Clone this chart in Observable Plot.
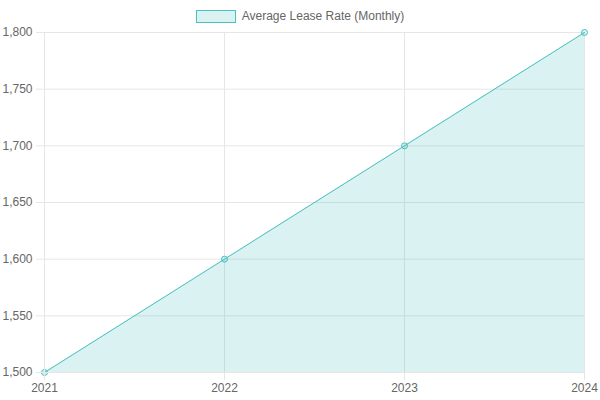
<!DOCTYPE html>
<html>
<head>
<meta charset="utf-8">
<script src="https://cdn.jsdelivr.net/npm/d3@7"></script>
<script src="https://cdn.jsdelivr.net/npm/@observablehq/plot@0.6"></script>
<style>
  html, body { margin: 0; padding: 0; background: #fff; }
  body { width: 600px; height: 400px; overflow: hidden; font-family: "Liberation Sans", Arial, sans-serif; }
  #legend { height: 24px; display: flex; justify-content: center; align-items: center; font-size: 12px; color: #666; padding-top: 8px; box-sizing: border-box; }
  #legend .box { width: 40px; height: 13px; background: rgba(75,192,192,0.2); border: 1.5px solid rgb(75,192,192); margin-right: 6px; box-sizing: border-box; }
  svg { display: block; }
</style>
</head>
<body>
<div id="legend"><span class="box"></span><span id="legend-label"></span></div>
<div id="chart"></div>
<script>
const seriesName = "Average Lease Rate (Monthly)";
const years = [2021, 2022, 2023, 2024];
const leaseRates = [1500, 1600, 1700, 1800];
const yTicks = [1500, 1550, 1600, 1650, 1700, 1750, 1800];

document.getElementById("legend-label").textContent = seriesName;

const data = years.map((y, i) => ({year: y, rate: leaseRates[i]}));
const teal = "rgb(75,192,192)";
const grid = "#e6e6e6";
const fmt = d3.format(",");

const chart = Plot.plot({
  width: 600,
  height: 376,
  marginTop: 8,
  marginBottom: 28,
  marginLeft: 44,
  marginRight: 16,
  style: { fontFamily: '"Liberation Sans", Arial, sans-serif', fontSize: "12px", color: "#666", background: "#fff" },
  x: { domain: [2021, 2024], ticks: years },
  y: { domain: [1500, 1800], ticks: yTicks },
  marks: [
    Plot.gridX(years, { stroke: grid, strokeOpacity: 1 }),
    Plot.gridY(yTicks, { stroke: grid, strokeOpacity: 1 }),
    Plot.areaY(data, { x: "year", y1: 1500, y2: "rate", fill: "rgba(75,192,192,0.2)" }),
    Plot.line(data, { x: "year", y: "rate", stroke: teal, strokeWidth: 1 }),
    Plot.dot(data, { x: "year", y: "rate", r: 3, stroke: teal, fill: "rgba(75,192,192,0.2)", strokeWidth: 1 }),
    Plot.axisX({ ticks: years, tickFormat: d => String(d), tickSize: 8, tickPadding: 3, stroke: grid, fill: "#666", label: null }),
    Plot.axisY({ ticks: yTicks, tickFormat: fmt, tickSize: 8, tickPadding: 4, stroke: grid, fill: "#666", label: null }),
    Plot.ruleX([2021], { stroke: grid }),
    Plot.ruleY([1500], { stroke: grid })
  ]
});
document.getElementById("chart").appendChild(chart);
</script>
</body>
</html>
